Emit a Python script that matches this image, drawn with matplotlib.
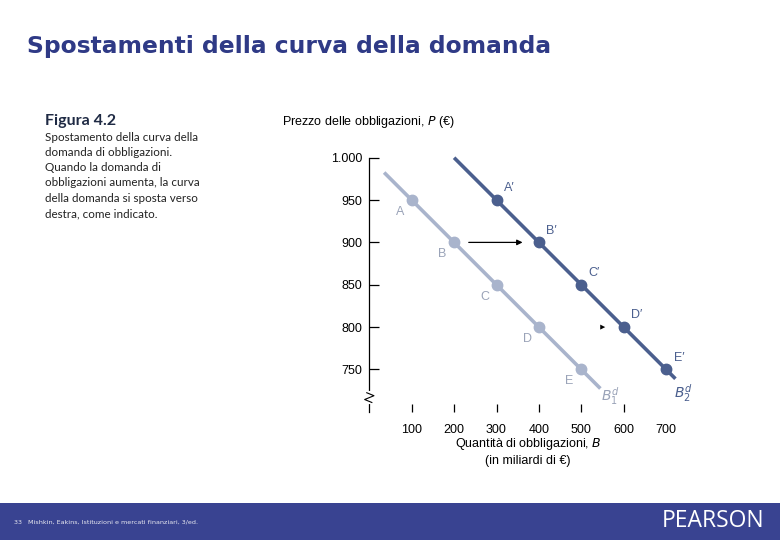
import matplotlib.pyplot as plt
from matplotlib.patches import Rectangle

# curva di domanda iniziale B1d e spostata B2d
qty_1 = [100, 200, 300, 400, 500]
price_1 = [950, 900, 850, 800, 750]
labels_1 = ['A', 'B', 'C', 'D', 'E']
line_1_q = [35, 545]
line_1_p = [982.5, 727.5]

qty_2 = [300, 400, 500, 600, 700]
price_2 = [950, 900, 850, 800, 750]
labels_2 = ['A\u2032', 'B\u2032', 'C\u2032', 'D\u2032', 'E\u2032']
line_2_q = [200, 722]
line_2_p = [1000, 739]

x_ticks = [100, 200, 300, 400, 500, 600]
x_last = [700]
y_ticks = [750, 800, 850, 900, 950, 1000]
y_ticklabels = ['750', '800', '850', '900', '950', '1.000']

LIGHT = '#a9b4cc'
DARK = '#4b5f8e'
NAVY = '#2f3a86'
BAR = '#394391'

sans = ['Liberation Sans', 'DejaVu Sans']
W, H = 780, 540

fig = plt.figure(figsize=(7.8, 5.4), dpi=100)
fig.patch.set_facecolor('white')

# axes placed in pixel coords: x=0 at 369.3px, 100 units = 42.4px
x0, x1 = 369.3, 369.3 + 8 * 42.4
ytop, ybot = 157.7 - 0.847 * 10, 157.7 + 0.847 * 300
ax = fig.add_axes([x0 / W, 1 - ybot / H, (x1 - x0) / W, (ybot - ytop) / H])
ax.set_xlim(0, 800)
ax.set_ylim(700, 1010)
ax.patch.set_alpha(0)

ax.plot(line_1_q, line_1_p, color=LIGHT, lw=2.6, solid_capstyle='butt', zorder=2)
ax.plot(qty_1, price_1, 'o', color=LIGHT, ms=7.5, zorder=3)
ax.plot(line_2_q, line_2_p, color=DARK, lw=2.6, solid_capstyle='butt', zorder=2)
ax.plot(qty_2, price_2, 'o', color=DARK, ms=7.5, zorder=3)

for q, p, lab in zip(qty_1, price_1, labels_1):
    ax.text(q - 28, p - 14, lab, color='#9aa3b8', fontsize=9, family=sans,
            ha='center', va='center')
for q, p, lab in zip(qty_2, price_2, labels_2):
    ax.text(q + 30, p + 14, lab, color=DARK, fontsize=9, family=sans,
            ha='center', va='center')

ax.text(568, 719, r'$B^{d}_{1}$', color='#9aa3b8', fontsize=10,
        ha='center', va='center')
ax.text(740, 722, r'$B^{d}_{2}$', color=DARK, fontsize=10,
        ha='center', va='center')

# frecce di spostamento
ax.annotate('', xy=(368, 900), xytext=(228, 900),
            arrowprops=dict(arrowstyle='-|>', color='black', lw=0.9,
                            mutation_scale=8))
ax.annotate('', xy=(563, 800), xytext=(548, 800),
            arrowprops=dict(arrowstyle='-|>', color='black', lw=0.0,
                            mutation_scale=9))

for s in ['top', 'right', 'bottom']:
    ax.spines[s].set_visible(False)
ax.spines['left'].set_linewidth(0.9)
ax.spines['left'].set_bounds(700, 1000)

# simbolo di interruzione dell'asse
ax.plot([0, 0], [711, 722], color='white', lw=3, zorder=4, clip_on=False)
ax.plot([-6, 11, -11, 6], [722.5, 719, 714.5, 711], color='black', lw=0.8,
        zorder=5, clip_on=False)

ax.set_xticks(x_ticks)
ax.set_xticklabels([str(v) for v in x_ticks], family=sans, fontsize=9)
ax.set_xticks(x_last, minor=True)
ax.set_xticklabels([str(v) for v in x_last], minor=True, family=sans,
                   fontsize=9)
ax.set_yticks(y_ticks)
ax.set_yticklabels(y_ticklabels, family=sans, fontsize=9)
ax.tick_params(axis='x', which='major', direction='in', length=6, width=0.9,
               pad=9)
ax.tick_params(axis='x', which='minor', direction='in', length=0, pad=9)
ax.tick_params(axis='y', direction='in', length=7, width=0.9, pad=5)

fig.text(282 / W, 1 - 122 / H, 'Prezzo delle obbligazioni, $P$ (\u20ac)',
         family=sans, fontsize=9, ha='left', va='center')
fig.text(528 / W, 1 - 444 / H, 'Quantit\u00e0 di obbligazioni, $B$',
         family=sans, fontsize=9, ha='center', va='center')
fig.text(528 / W, 1 - 461 / H, '(in miliardi di \u20ac)',
         family=sans, fontsize=9, ha='center', va='center')

# titolo della slide
fig.text(27 / W, 1 - 47 / H, 'Spostamenti della curva della domanda',
         family='DejaVu Sans', weight='bold', fontsize=16.8, color=NAVY,
         ha='left', va='center')

# didascalia
fig.text(45 / W, 1 - 121 / H, 'Figura 4.2', family='Lato', weight='bold',
         fontsize=11.5, color='#1f2a44', ha='left', va='center')
caption = ['Spostamento della curva della',
           'domanda di obbligazioni.',
           'Quando la domanda di',
           'obbligazioni aumenta, la curva',
           'della domanda si sposta verso',
           'destra, come indicato.']
for i, line in enumerate(caption):
    fig.text(45 / W, 1 - (137 + 15.3 * i) / H, line, family='Lato',
             fontsize=8.4, color='#222222', ha='left', va='center')

# barra inferiore
fig.patches.append(Rectangle((0, 0), 1, 37 / H, transform=fig.transFigure,
                             facecolor=BAR, edgecolor='none', zorder=0))
fig.text(14 / W, 1 - 522 / H,
         '33   Mishkin, Eakins, Istituzioni e mercati finanziari, 3/ed.',
         family='DejaVu Sans', fontsize=4.6, color='#e8e8f0',
         ha='left', va='center')
fig.text(764 / W, 1 - 521 / H, 'PEARSON', family='Open Sans', fontsize=16.5,
         color='white', ha='right', va='center')

fig.savefig('out.png', dpi=100)
plt.close()
